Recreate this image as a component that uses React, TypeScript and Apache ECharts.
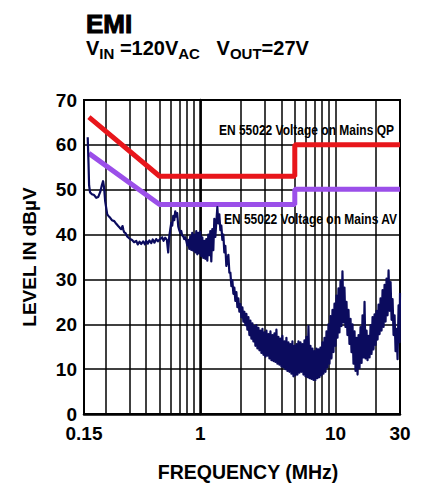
import React, { useEffect, useRef } from "react";
import * as echarts from "echarts";

// ---- axis extents (MHz / dBµV) ----
const AXIS_MIN_MHZ = 0.138;
const AXIS_MAX_MHZ = 30;
const Y_MIN = 0;
const Y_MAX = 70;
const Y_STEP = 10;

// ---- tick labels ----
const xTickLabels = ["0.15", "1", "10", "30"];
const xTickMHz = [0.15, 1, 10, 30];

// ---- vertical log grid lines ----
const gridMHz = [0.2, 0.3, 0.4, 0.5, 0.6, 0.7, 0.8, 0.9, 1, 2, 3, 4, 5, 6, 7, 8, 9, 10, 20];

// ---- limit lines ----
const qpMHz = [0.15, 0.5, 5, 5, 30];
const qpLevel = [66.2, 53, 53, 60, 60];
const avMHz = [0.15, 0.5, 5, 5, 30];
const avLevel = [58.1, 46.7, 46.7, 50.1, 50.1];

// ---- measured EMI trace [MHz, dBµV] ----
const emiTrace: [number, number][] = [
  [0.147, 61.7], [0.149, 56.0], [0.1505, 51.0], [0.153, 49.4], [0.158, 49.0], [0.164, 48.8], [0.17, 48.2],
  [0.176, 48.4], [0.182, 49.5], [0.187, 51.0], [0.191, 51.9], [0.194, 50.6], [0.198, 47.4], [0.205, 44.5],
  [0.21, 44.1], [0.215, 43.8], [0.222, 43.2], [0.231, 43.0], [0.239, 42.4], [0.247, 41.9], [0.254, 41.5],
  [0.26, 41.2], [0.266, 41.9], [0.27, 41.0], [0.274, 40.5], [0.28, 40.3], [0.288, 39.6], [0.295, 39.3],
  [0.303, 39.0], [0.313, 38.8], [0.324, 38.3], [0.336, 38.6], [0.345, 37.8], [0.355, 38.4], [0.366, 37.9],
  [0.378, 38.5], [0.39, 37.8], [0.398, 38.6], [0.41, 38.0], [0.42, 38.7], [0.434, 38.1], [0.445, 38.9],
  [0.458, 38.2], [0.472, 39.0], [0.486, 38.5], [0.505, 39.0],
  [0.523, 39.4], [0.535, 38.6], [0.55, 39.3], [0.566, 38.8], [0.579, 36.0], [0.589, 39.5], [0.6, 41.2],
  [0.61, 42.6], [0.62, 42.0], [0.631, 44.2], [0.642, 43.2], [0.653, 45.2], [0.664, 44.0], [0.675, 44.8],
  [0.687, 41.8], [0.699, 41.0], [0.711, 40.4], [0.723, 40.8], [0.735, 39.8], [0.748, 39.6], [0.761, 39.0],
  [0.774, 39.4],
  [0.788, 38.6], [0.801, 37.6], [0.815, 38.8], [0.829, 36.8], [0.843, 39.6], [0.858, 36.6], [0.872, 40.4],
  [0.887, 36.4], [0.903, 40.0], [0.918, 36.0], [0.934, 40.8], [0.95, 35.6], [0.966, 40.4], [0.983, 35.8],
  [1.0, 40.6], [1.017, 35.2], [1.035, 39.4], [1.052, 34.8], [1.071, 38.6], [1.089, 34.6], [1.108, 39.0],
  [1.127, 34.2], [1.146, 40.0], [1.166, 35.4], [1.186, 40.8], [1.206, 34.0], [1.227, 41.2], [1.248, 36.5],
  [1.27, 43.5], [1.292, 39.5],
  [1.337, 46.1], [1.36, 42.5], [1.383, 44.5], [1.407, 41.0], [1.431, 42.0], [1.456, 38.8], [1.481, 40.0],
  [1.506, 36.0], [1.532, 37.5], [1.558, 33.0],
  [1.613, 35.5], [1.641, 31.5], [1.669, 31.5], [1.698, 28.5], [1.727, 29.8], [1.757, 26.8], [1.786, 28.2],
  [1.817, 25.2], [1.849, 27.2], [1.881, 23.8], [1.913, 25.8], [1.946, 22.8], [1.979, 24.5], [2.013, 21.6],
  [2.048, 23.8], [2.083, 20.6], [2.119, 22.8], [2.156, 19.8], [2.193, 22.3], [2.231, 18.8], [2.269, 21.6],
  [2.308, 17.6], [2.348, 20.8], [2.389, 16.8], [2.43, 20.2], [2.472, 16.2], [2.514, 19.6], [2.557, 15.2],
  [2.601, 19.8], [2.646, 14.6], [2.692, 19.2], [2.738, 14.2], [2.785, 18.6], [2.833, 13.6], [2.882, 19.0],
  [2.931, 13.2], [2.982, 18.2], [3.033, 12.8], [3.085, 18.6], [3.138, 13.0], [3.192, 17.8], [3.247, 12.4],
  [3.303, 18.4], [3.36, 12.0], [3.418, 17.6], [3.477, 11.8], [3.537, 18.0], [3.594, 11.6], [3.656, 18.8],
  [3.719, 11.2], [3.783, 17.2], [3.848, 11.0], [3.914, 16.8], [3.981, 10.6], [4.05, 17.4], [4.119, 10.4],
  [4.19, 16.2], [4.262, 10.0], [4.336, 17.0], [4.41, 9.6], [4.486, 16.0], [4.563, 9.4], [4.642, 15.6],
  [4.722, 9.0], [4.803, 16.2], [4.886, 8.4], [4.97, 15.2], [5.055, 8.6], [5.142, 15.6], [5.231, 8.8],
  [5.321, 16.2], [5.412, 9.2], [5.506, 16.0], [5.6, 9.4], [5.697, 15.6], [5.795, 8.8], [5.894, 16.4],
  [5.996, 8.4], [6.099, 17.2], [6.204, 8.2], [6.31, 19.6], [6.419, 8.0], [6.529, 15.2], [6.641, 7.8],
  [6.756, 14.6], [6.872, 7.6], [6.99, 14.0], [7.11, 7.6], [7.233, 14.6], [7.357, 8.0], [7.484, 14.4],
  [7.612, 8.2], [7.743, 14.8], [7.876, 8.6], [8.012, 16.0], [8.15, 9.0], [8.29, 17.0], [8.433, 9.4],
  [8.578, 18.4], [8.725, 10.4], [8.875, 20.0], [9.028, 11.2], [9.183, 21.8], [9.341, 12.4], [9.502, 23.2],
  [9.665, 13.8], [9.831, 24.6], [10.0, 15.2], [10.17, 26.4], [10.35, 17.0], [10.52, 28.0], [10.7, 18.2],
  [10.89, 29.6], [11.07, 19.6], [11.26, 31.8], [11.46, 20.4], [11.65, 28.2], [11.85, 19.4], [12.06, 25.0],
  [12.26, 17.6], [12.48, 23.2], [12.69, 15.6], [12.92, 21.2], [13.14, 13.8], [13.36, 20.0], [13.59, 11.2],
  [13.83, 18.4], [14.07, 9.6], [14.31, 17.0], [14.56, 8.8], [14.81, 17.6], [15.06, 10.2], [15.32, 19.4],
  [15.59, 11.4], [15.85, 22.0], [16.13, 12.6], [16.4, 25.0], [16.68, 12.4], [16.97, 18.6], [17.26, 12.0],
  [17.56, 17.4], [17.86, 12.6], [18.17, 19.8], [18.48, 13.4], [18.8, 21.6], [19.12, 14.4], [19.45, 22.2],
  [19.79, 15.4], [20.13, 23.0], [20.47, 16.6], [20.82, 24.4], [21.18, 17.8], [21.54, 25.8], [21.91, 18.6],
  [22.29, 27.6], [22.67, 19.4], [23.06, 28.8], [23.46, 20.6], [23.86, 30.2], [24.27, 22.0], [24.69, 32.0],
  [25.12, 23.0], [25.55, 29.4], [25.99, 21.0], [26.43, 25.6], [26.89, 17.6], [27.35, 22.0], [27.82, 14.0],
  [28.3, 19.0], [28.78, 12.2], [29.28, 24.2], [29.78, 16.0], [30.0, 27.0],
];

const FONT = "'Liberation Sans', Arial, Helvetica, sans-serif";
const RED = "#e8161b";
const PURPLE = "#9b4fe9";
const NAVY = "#0b0b5e";

const lg = (v: number) => Math.log10(v);

export default function App() {
  const ref = useRef<HTMLDivElement>(null);

  useEffect(() => {
    if (!ref.current) return;
    const chart = echarts.init(ref.current, undefined, { renderer: "svg" });

    // the first label (0.15) sits at the left end of the axis, as in the reference
    const xTickPos = xTickMHz.map((f, i) => (i === 0 ? lg(AXIS_MIN_MHZ) : lg(f)));
    const labelFor = (v: number) => {
      const i = xTickPos.findIndex((p) => Math.abs(p - v) < 1e-6);
      return i >= 0 ? xTickLabels[i] : "";
    };

    chart.setOption({
      animation: false,
      textStyle: { fontFamily: FONT },
      grid: {
        left: 84,
        top: 100,
        width: 316,
        height: 314,
        show: true,
        borderColor: "#000",
        borderWidth: 2,
        backgroundColor: "transparent",
      },
      xAxis: {
        type: "value",
        min: lg(AXIS_MIN_MHZ),
        max: lg(AXIS_MAX_MHZ),
        axisLine: { show: true, onZero: false, lineStyle: { color: "#000", width: 2.5 } },
        axisTick: { show: false },
        splitLine: { show: false },
        axisLabel: {
          customValues: xTickPos,
          formatter: (v: number) => labelFor(v),
          color: "#000",
          fontSize: 19,
          fontWeight: "bold",
          fontFamily: FONT,
          margin: 10,
        },
      },
      yAxis: {
        type: "value",
        min: Y_MIN,
        max: Y_MAX,
        interval: Y_STEP,
        axisLine: { show: true, lineStyle: { color: "#000", width: 2.5 } },
        axisTick: { show: false },
        splitLine: { show: true, lineStyle: { color: "#000", width: 1.5 } },
        axisLabel: { color: "#000", fontSize: 19, fontWeight: "bold", fontFamily: FONT, margin: 7 },
      },
      series: [
        {
          type: "line",
          name: "grid",
          silent: true,
          z: 1,
          data: [[lg(AXIS_MIN_MHZ), Y_MIN]],
          showSymbol: false,
          symbol: "none",
          lineStyle: { opacity: 0 },
          markLine: {
            z: 1,
            silent: true,
            symbol: ["none", "none"],
            label: { show: false },
            lineStyle: { color: "#000", width: 1.5, type: "solid" },
            data: gridMHz.map((f) => ({ xAxis: lg(f) })),
          },
        },
        {
          type: "line",
          name: "AV",
          z: 6,
          symbol: "none",
          data: avMHz.map((f, i) => [lg(f), avLevel[i]]),
          lineStyle: { color: PURPLE, width: 5 },
        },
        {
          type: "line",
          name: "QP",
          z: 6,
          symbol: "none",
          data: qpMHz.map((f, i) => [lg(f), qpLevel[i]]),
          lineStyle: { color: RED, width: 5 },
        },
        {
          type: "line",
          name: "EMI",
          z: 8,
          symbol: "none",
          data: emiTrace.map(([f, v]) => [lg(f), v]),
          lineStyle: { color: NAVY, width: 2.2, join: "round" },
        },
      ],
      graphic: [
        {
          type: "text",
          x: 86,
          y: 23.5,
          style: {
            text: "EMI",
            fontSize: 26,
            lineHeight: 20,
            fontWeight: "bold",
            fontFamily: FONT,
            fill: "#000",
            stroke: "#000",
            lineWidth: 1,
            verticalAlign: "middle",
          },
        },
        {
          type: "text",
          x: 86,
          y: 38,
          style: {
            text: "{v|V}{s|IN}{v| =120V}{s|AC}{v|   V}{s|OUT}{v|=27V}",
            fill: "#000",
            fontFamily: FONT,
            fontWeight: "bold",
            verticalAlign: "top",
            rich: {
              v: { fontSize: 20, lineHeight: 20, fontWeight: "bold", verticalAlign: "top", fontFamily: FONT, fill: "#000" },
              s: { fontSize: 15, lineHeight: 15, fontWeight: "bold", verticalAlign: "top", padding: [8, 0, 0, 0], fontFamily: FONT, fill: "#000" },
            },
          },
        },
        {
          type: "text",
          x: 394,
          y: 130,
          scaleX: 0.8,
          style: {
            text: "EN 55022 Voltage on Mains QP",
            fontSize: 15,
            fontWeight: "bold",
            fontFamily: FONT,
            fill: "#000",
            align: "right",
            verticalAlign: "middle",
          },
        },
        {
          type: "text",
          x: 397,
          y: 219.5,
          scaleX: 0.8,
          style: {
            text: "EN 55022 Voltage on Mains AV",
            fontSize: 15,
            fontWeight: "bold",
            fontFamily: FONT,
            fill: "#000",
            align: "right",
            verticalAlign: "middle",
          },
        },
        {
          type: "text",
          x: 29,
          y: 257,
          rotation: Math.PI / 2,
          style: {
            text: "LEVEL IN dBµV",
            fontSize: 19,
            fontWeight: "bold",
            fontFamily: FONT,
            fill: "#000",
            align: "center",
            verticalAlign: "middle",
          },
        },
        {
          type: "text",
          x: 248,
          y: 472,
          style: {
            text: "FREQUENCY (MHz)",
            fontSize: 19.5,
            fontWeight: "bold",
            fontFamily: FONT,
            fill: "#000",
            align: "center",
            verticalAlign: "middle",
          },
        },
      ],
    });

    return () => chart.dispose();
  }, []);

  return (
    <div
      ref={ref}
      style={{ position: "fixed", left: 0, top: 0, width: 428, height: 485, background: "#fff" }}
    />
  );
}
